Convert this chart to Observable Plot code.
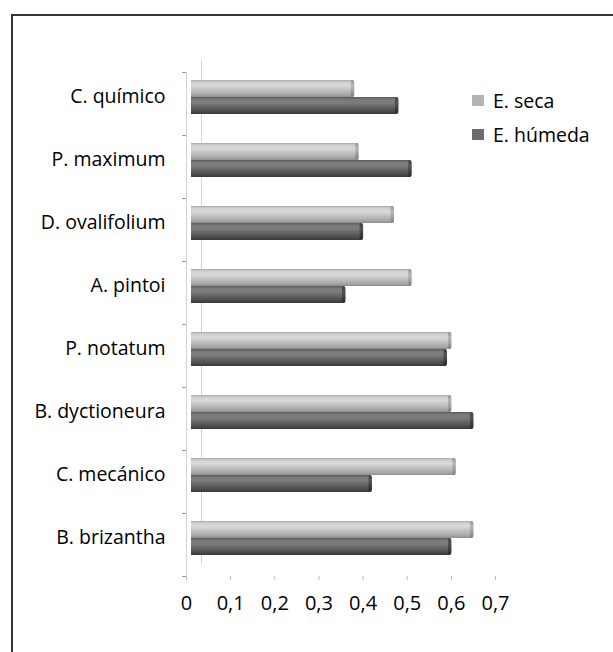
<!DOCTYPE html>
<html><head><meta charset="utf-8">
<script src="https://cdn.jsdelivr.net/npm/d3@7"></script>
<script src="https://cdn.jsdelivr.net/npm/@observablehq/plot@0.6"></script>
<style>
body{margin:0;background:#fff;overflow:hidden;font-family:"Open Sans",sans-serif}
#wrap{position:relative;width:613px;height:652px;overflow:hidden;background:#fff}
#border{position:absolute;left:11px;top:14px;width:700px;height:700px;border:2px solid #333;box-sizing:border-box}
#chart{position:absolute;left:0;top:0}
#legend{position:absolute;left:472px;top:83px;font-size:19.5px;color:#000}
.item{display:flex;align-items:center;height:34px;white-space:nowrap}
.sw{width:12px;height:11px;margin-right:9px}
</style></head><body>
<div id="wrap"><div id="border"></div><div id="chart"></div><div id="legend"></div></div>
<script>
const categories = ["C. químico","P. maximum","D. ovalifolium","A. pintoi","P. notatum","B. dyctioneura","C. mecánico","B. brizantha"];
const seriesNames = ["E. seca","E. húmeda"];
const seca   = [0.37,0.38,0.46,0.50,0.59,0.59,0.60,0.64];
const humeda = [0.47,0.50,0.39,0.35,0.58,0.64,0.41,0.59];
const xTicks = [0,0.1,0.2,0.3,0.4,0.5,0.6,0.7];
const xTickLabels = ["0","0,1","0,2","0,3","0,4","0,5","0,6","0,7"];
const legendColors = ["#b4b4b4","#6b6b6b"];

const rows = [];
categories.forEach((c,i)=>{
  rows.push({cat:c, series:seriesNames[0], v:seca[i]});
  rows.push({cat:c, series:seriesNames[1], v:humeda[i]});
});
const capW = 0.008;

const chart = Plot.plot({
  width: 613, height: 652,
  marginLeft: 186, marginRight: 118, marginTop: 72, marginBottom: 76,
  style: {fontFamily: "'Open Sans', sans-serif", fontSize: "19.5px", color: "#000", background: "transparent"},
  x: {domain: [0, 0.7]},
  y: {domain: seriesNames, paddingInner: 0, paddingOuter: 0.8, axis: null},
  fy: {domain: categories, padding: 0, axis: null},
  marks: [
    Plot.ruleX([0], {dx: 15, dy: -12, stroke: "#d4d4d4"}),
    Plot.ruleX([0], {stroke: "#d4d4d4"}),
    Plot.barX(rows, {fy: "cat", y: "series", x1: 0, x2: d => d.v - capW/2, dx: 5, dy: -7,
      fill: d => d.series === seriesNames[0] ? "url(#gSeca)" : "url(#gHum)"}),
    Plot.barX(rows, {fy: "cat", y: "series", x1: d => d.v - capW, x2: "v", dx: 5, dy: -7, rx: 3.5,
      fill: d => d.series === seriesNames[0] ? "url(#cSeca)" : "url(#cHum)"}),
    Plot.axisFy({anchor: "left", tickSize: 0, tickPadding: 21, dy: -7, label: null, fontSize: 19.5}),
    Plot.axisFy({anchor: "left", tickSize: 4, text: null, dy: -31.5, label: null, stroke: "#999"}),
    Plot.axisFy({anchor: "left", tickSize: 4, text: null, dy: 31.5, label: null, stroke: "#999"}),
    Plot.axisX({ticks: xTicks, tickFormat: (d,i) => xTickLabels[i], tickSize: 4, tickPadding: 15,
      line: true, stroke: "#bbb", label: null, fontSize: 20})
  ]
});

const defs = d3.select(chart).insert("defs", ":first-child");
function grad(id, stops){
  const g = defs.append("linearGradient").attr("id", id).attr("x1",0).attr("y1",0).attr("x2",0).attr("y2",1);
  stops.forEach(([o,c]) => g.append("stop").attr("offset", o).attr("stop-color", c));
}
grad("gSeca", [[0,"#a8a8a8"],[0.12,"#cfcfcf"],[0.32,"#d9d9d9"],[0.6,"#c0c0c0"],[0.85,"#a8a8a8"],[1,"#8e8e8e"]]);
grad("gHum",  [[0,"#5a5a5a"],[0.15,"#7a7a7a"],[0.35,"#7c7c7c"],[0.65,"#5e5e5e"],[0.88,"#474747"],[1,"#383838"]]);
grad("cSeca", [[0,"#8e8e8e"],[0.3,"#b8b8b8"],[0.7,"#9c9c9c"],[1,"#7a7a7a"]]);
grad("cHum",  [[0,"#3c3c3c"],[0.3,"#555"],[0.7,"#3c3c3c"],[1,"#2a2a2a"]]);

document.getElementById("chart").appendChild(chart);

const legend = d3.select("#legend");
seriesNames.forEach((s,i) => {
  const it = legend.append("div").attr("class","item");
  it.append("div").attr("class","sw").style("background", legendColors[i]);
  it.append("span").text(s);
});
</script>
</body></html>
